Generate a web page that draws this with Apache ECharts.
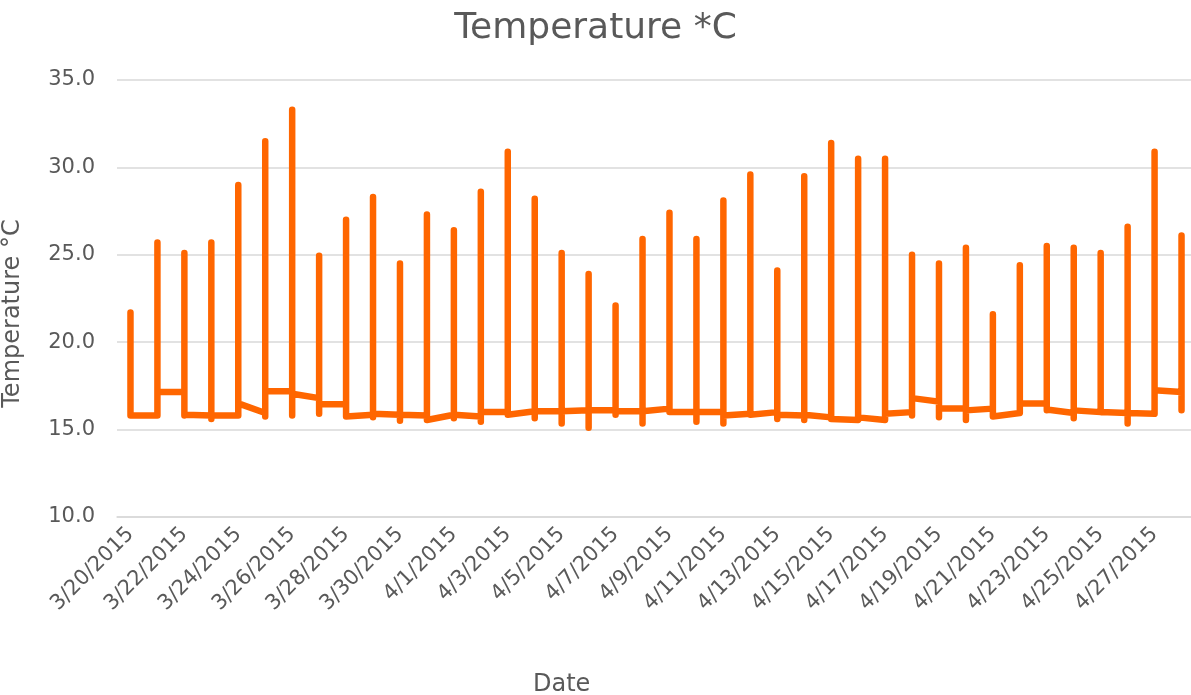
<!DOCTYPE html>
<html>
<head>
<meta charset="utf-8">
<script src="https://cdn.jsdelivr.net/npm/echarts@6/dist/echarts.min.js"></script>
<style>
    html, body { margin: 0; padding: 0; background: #fff; }
    #main { width: 1191px; height: 695px; }
</style>
</head>
<body>
<div id="main"></div>
<script>
// one category per day
var days = ['3/20/2015', '3/21/2015', '3/22/2015', '3/23/2015', '3/24/2015', '3/25/2015', '3/26/2015', '3/27/2015',
    '3/28/2015', '3/29/2015', '3/30/2015', '3/31/2015', '4/1/2015', '4/2/2015', '4/3/2015', '4/4/2015',
    '4/5/2015', '4/6/2015', '4/7/2015', '4/8/2015', '4/9/2015', '4/10/2015', '4/11/2015', '4/12/2015',
    '4/13/2015', '4/14/2015', '4/15/2015', '4/16/2015', '4/17/2015', '4/18/2015', '4/19/2015', '4/20/2015',
    '4/21/2015', '4/22/2015', '4/23/2015', '4/24/2015', '4/25/2015', '4/26/2015', '4/27/2015', '4/28/2015'];

// readings of each day: first, lowest, highest, last
var dayStart = [15.8, 15.8, 17.15, 15.8, 15.8, 15.95, 17.2, 16.8, 16.45, 15.85,
    15.85, 15.8, 15.85, 15.75, 16.0, 16.05, 16.05, 16.1, 16.1, 16.05,
    16.2, 16.0, 16.0, 15.9, 16.0, 15.8, 15.7, 15.55, 15.55, 16.0,
    16.6, 16.2, 16.2, 15.95, 16.5, 15.95, 16.0, 15.95, 15.9, 17.15];
var dayMin = [15.8, 15.8, 15.8, 15.6, 15.8, 15.75, 15.8, 15.9, 15.75, 15.7,
    15.5, 15.55, 15.65, 15.45, 15.85, 15.65, 15.35, 15.1, 15.85, 15.35,
    16.0, 15.45, 15.35, 15.85, 15.6, 15.55, 15.6, 15.5, 15.55, 15.8,
    15.7, 15.55, 15.75, 15.95, 16.1, 15.65, 15.95, 15.35, 15.8, 16.1];
var dayMax = [21.7, 25.7, 25.1, 25.7, 29.0, 31.5, 33.3, 24.95, 27.0, 28.3,
    24.5, 27.3, 26.4, 28.6, 30.9, 28.2, 25.1, 23.9, 22.1, 25.9,
    27.4, 25.9, 28.1, 29.6, 24.1, 29.5, 31.4, 30.5, 30.5, 25.0,
    24.5, 25.4, 21.6, 24.4, 25.5, 25.4, 25.1, 26.6, 30.9, 26.1];
var dayEnd = [15.8, 17.15, 15.85, 15.8, 16.5, 17.2, 17.05, 16.45, 15.75, 15.9,
    15.85, 15.55, 15.85, 16.0, 15.85, 16.05, 16.05, 16.1, 16.05, 16.05,
    16.0, 16.0, 15.8, 15.85, 15.85, 15.85, 15.6, 15.7, 15.9, 16.8,
    16.2, 16.1, 15.75, 16.5, 16.15, 16.1, 16.0, 15.95, 17.25, 16.1];

var points = [];
for (var i = 0; i < days.length; i++) {
    points.push([i, dayStart[i]], [i, dayMin[i]], [i, dayMax[i]], [i, dayEnd[i]]);
}

var font = '"DejaVu Sans", sans-serif';
var grey = '#595959';

var myChart = echarts.init(document.getElementById('main'));
var option = {
    animation: false,
    title: [{
        text: 'Temperature *C',
        left: 'center',
        top: 6,
        textStyle: { fontFamily: font, fontSize: 36, fontWeight: 'normal', color: grey }
    }, {
        text: 'Date',
        left: 528,
        top: 668,
        textStyle: { fontFamily: font, fontSize: 24, fontWeight: 'normal', color: grey }
    }],
    // plot is a little wider than the window, as in the original
    grid: { left: 117, top: 80, width: 1078, height: 437, outerBoundsMode: 'none' },
    xAxis: {
        type: 'category',
        data: days,
        boundaryGap: true,
        axisLine: { lineStyle: { color: '#d9d9d9', width: 1.5 } },
        axisTick: { show: false },
        axisLabel: {
            interval: 1,
            rotate: 45,
            margin: 14,
            fontFamily: font,
            fontSize: 21,
            color: grey
        }
    },
    yAxis: {
        type: 'value',
        min: 10,
        max: 35,
        interval: 5,
        name: 'Temperature °C',
        nameLocation: 'middle',
        nameGap: 92,
        nameTextStyle: { fontFamily: font, fontSize: 24, color: grey, padding: [0, 30, 0, 0] },
        axisLine: { show: false },
        axisTick: { show: false },
        splitLine: { lineStyle: { color: '#d9d9d9', width: 1.5 } },
        axisLabel: {
            margin: 22,
            fontFamily: font,
            fontSize: 21,
            color: grey,
            formatter: function (v) { return v.toFixed(1); }
        }
    },
    series: [{
        type: 'line',
        data: points,
        showSymbol: false,
        symbol: 'none',
        lineStyle: { color: '#ff6600', width: 6.5, cap: 'round', join: 'round' }
    }]
};
myChart.setOption(option);
</script>
</body>
</html>
